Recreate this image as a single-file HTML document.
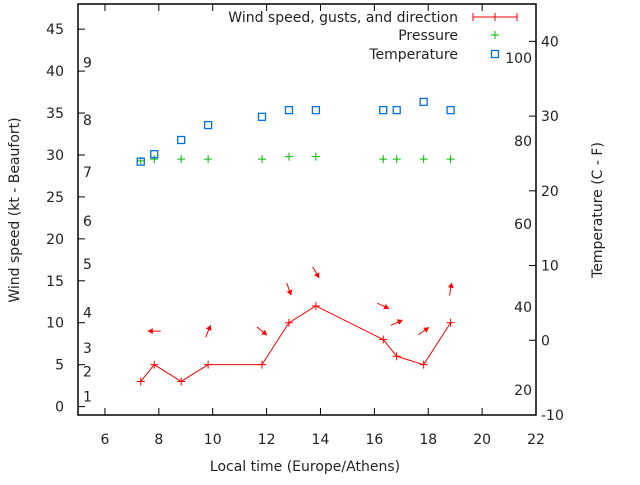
<!DOCTYPE html>
<html><head><meta charset="utf-8"><style>
body{margin:0;background:#fff}
svg text{font-family:"DejaVu Sans","Liberation Sans",sans-serif;font-size:14px;fill:#222}
</style></head><body>
<svg id="chart" width="640" height="480" viewBox="0 0 640 480" xmlns="http://www.w3.org/2000/svg">
<g id="axes"></g><g id="marks"></g><g id="legend"></g>
</svg>
<script>
const times=[7.33,7.83,8.83,9.83,11.83,12.83,13.83,16.33,16.83,17.83,18.83];
const windSpeed=[3,5,3,5,5,10,12,8,6,5,10];
// direction each arrow points (compass degrees), per time index
const windDir=[null,270,null,22,130,160,150,115,65,55,10];
const pressure=[29.3,29.5,29.5,29.5,29.5,29.8,29.8,29.5,29.5,29.5,29.5];
const temperature=[23.9,24.9,26.8,28.8,29.9,30.8,30.8,30.8,30.8,31.9,30.8];
const xTicks=[6,8,10,12,14,16,18,20,22];
const yTicks=[0,5,10,15,20,25,30,35,40,45];
const y2Ticks=[-10,0,10,20,30,40];
const fLabels=[20,40,60,80,100];
const beaufortLabels=[1,2,3,4,5,6,7,8,9];
const beaufortKnots=[1.2,4.2,7,11.2,17,22.1,28,34.2,41];
const L=78,R=536,T=4,B=415;
const X=v=>L+(v-5)*(R-L)/17;
const Y=v=>B-(v+1)*(B-T)/49;
const Y2=v=>B-(v+10)*(B-T)/55;
const NS="http://www.w3.org/2000/svg";
function mk(p,tag,at,txt){const e=document.createElementNS(NS,tag);for(const k in at)e.setAttribute(k,at[k]);if(txt!==undefined)e.textContent=txt;p.appendChild(e);return e;}
const ax=document.getElementById('axes'),mg=document.getElementById('marks'),lg=document.getElementById('legend');
let e=mk(ax,'rect',{x:L,y:T,width:R-L,height:B-T,fill:'none',stroke:'#000','stroke-width':1.5});


xTicks.forEach(t=>{const x=X(t);
 mk(ax,'line',{x1:x,x2:x,y1:B,y2:B-7,stroke:'#000'});mk(ax,'line',{x1:x,x2:x,y1:T,y2:T+7,stroke:'#000'});
 e=mk(ax,'text',{x:x,y:B+29,'text-anchor':'middle'},t);
 
 });
yTicks.forEach(t=>{const y=Y(t);mk(ax,'line',{x1:L,x2:L+7,y1:y,y2:y,stroke:'#000'});
 e=mk(ax,'text',{x:L-14,y:y+5,'text-anchor':'end'},t);
 
 });
y2Ticks.forEach(t=>{const y=Y2(t);mk(ax,'line',{x1:R,x2:R-7,y1:y,y2:y,stroke:'#000'});
 e=mk(ax,'text',{x:R+5,y:y+5,'text-anchor':'start'},t);
 
 });
fLabels.forEach(f=>{const y=Y2((f-32)*5/9);
 e=mk(ax,'text',{x:532,y:y+5,'text-anchor':'end'},f);
 
 });
beaufortLabels.forEach((b,i)=>{const y=Y(beaufortKnots[i]);
 e=mk(ax,'text',{x:83,y:y+5},b);
 
 });
e=mk(ax,'text',{x:305,y:471,'text-anchor':'middle'},'Local time (Europe/Athens)');

e=mk(ax,'text',{x:0,y:0,'text-anchor':'middle',transform:'translate(19,210) rotate(-90)'},'Wind speed (kt - Beaufort)');

e=mk(ax,'text',{x:0,y:0,'text-anchor':'middle',transform:'translate(602,210) rotate(-90)'},'Temperature (C - F)');

function plus(g,x,y,c){mk(g,'path',{d:`M${x-4} ${y}H${x+4}M${x} ${y-4}V${y+4}`,stroke:c,'stroke-width':1});}
e=mk(mg,'polyline',{points:times.map((t,i)=>X(t)+','+Y(windSpeed[i])).join(' '),fill:'none',stroke:'#f00','stroke-width':1});

times.forEach((t,i)=>plus(mg,X(t),Y(windSpeed[i]),'#f00'));
windDir.forEach((d,i)=>{if(d===null)return;const cx=X(times[i]),cy=Y(windSpeed[i]+4);const a=d*Math.PI/180;
 const dx=Math.sin(a),dy=-Math.cos(a),l=6.5;const x2=cx+dx*l,y2=cy+dy*l;
 const g=mk(mg,'g',{});
 
 
 mk(g,'line',{x1:cx-dx*l,y1:cy-dy*l,x2:x2,y2:y2,stroke:'#f00'});
 const px=-dy,py=dx;
 mk(g,'polygon',{points:`${x2},${y2} ${x2-dx*5+px*3},${y2-dy*5+py*3} ${x2-dx*5-px*3},${y2-dy*5-py*3}`,fill:'#f00'});});
times.forEach((t,i)=>{plus(mg,X(t),Y(pressure[i]),'#0b0');});
times.forEach((t,i)=>{e=mk(mg,'rect',{x:X(t)-3.5,y:Y2(temperature[i])-3.5,width:7,height:7,fill:'none',stroke:'#0070e0','stroke-width':1.3});
 });
const leg=[['Wind speed, gusts, and direction',17],['Pressure',35],['Temperature',54]];
leg.forEach((l,i)=>{e=mk(lg,'text',{x:458,y:l[1]+5,'text-anchor':'end'},l[0]);
 });
mk(lg,'path',{d:'M473 17H517M473 13V21M517 13V21',stroke:'#f00'});plus(lg,495,17,'#f00');
plus(lg,495,35,'#0b0');
mk(lg,'rect',{x:491.5,y:50.5,width:7,height:7,fill:'none',stroke:'#0070e0','stroke-width':1.3});
</script>
</body></html>
